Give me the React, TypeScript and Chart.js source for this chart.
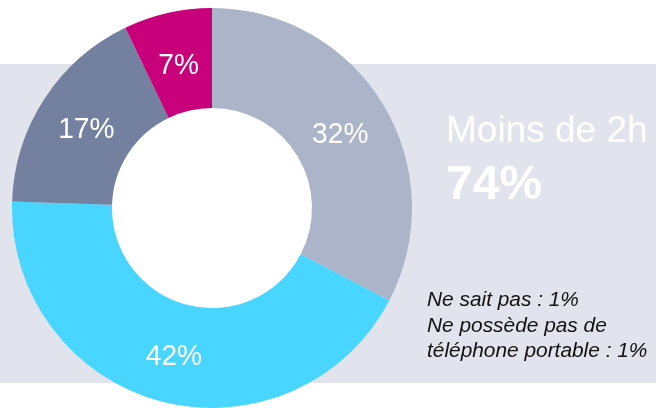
import React, { useEffect, useRef } from "react";
import { Chart, registerables } from "chart.js";

Chart.register(...registerables);

const labels = ["32%", "42%", "17%", "7%"];
const values = [32, 42, 17, 7];
const valueLabels = ["32%", "42%", "17%", "7%"];
const colors = ["#ABB4C8", "#48D5FF", "#7380A0", "#C8007A"];
const headline = "Moins de 2h";
const headlineValue = "74%";
const noteLines = ["Ne sait pas : 1%", "Ne possède pas de", "téléphone portable : 1%"];

const FONT = "'Liberation Sans', Arial, Helvetica, sans-serif";

const decorPlugin = {
  id: "decor",
  beforeDraw(chart: any) {
    const ctx = chart.ctx;
    ctx.save();
    ctx.fillStyle = "#E1E4EC";
    ctx.fillRect(0, 64, chart.width, 319);
    const arc = chart.getDatasetMeta(0).data[0];
    if (arc) {
      ctx.fillStyle = "#FFFFFF";
      ctx.beginPath();
      ctx.arc(arc.x, arc.y, arc.innerRadius + 1, 0, Math.PI * 2);
      ctx.fill();
    }
    ctx.restore();
  },
  afterDraw(chart: any) {
    const ctx = chart.ctx;
    const meta = chart.getDatasetMeta(0);
    ctx.save();
    ctx.fillStyle = "#FFFFFF";
    ctx.textAlign = "center";
    ctx.textBaseline = "middle";
    ctx.font = `29px ${FONT}`;
    meta.data.forEach((arc: any, i: number) => {
      const p = arc.tooltipPosition();
      ctx.save();
      ctx.translate(p.x, p.y + 4);
      ctx.scale(0.97, 1.04);
      ctx.fillText(valueLabels[i], 0, 0);
      ctx.restore();
    });

    ctx.textAlign = "left";
    ctx.textBaseline = "alphabetic";
    ctx.font = `37px ${FONT}`;
    ctx.fillText(headline, 446, 142);
    ctx.font = `bold 48px ${FONT}`;
    ctx.fillText(headlineValue, 446, 199);

    ctx.fillStyle = "#111111";
    ctx.font = `italic 19.5px ${FONT}`;
    noteLines.forEach((line, i) => {
      ctx.save();
      ctx.translate(427, 306 + i * 25.5);
      ctx.scale(1.07, 1);
      ctx.fillText(line, 0, 0);
      ctx.restore();
    });
    ctx.restore();
  },
};

export default function App() {
  const ref = useRef<HTMLCanvasElement>(null);
  useEffect(() => {
    if (!ref.current) return;
    const chart = new Chart(ref.current, {
      type: "doughnut",
      data: {
        labels: labels,
        datasets: [
          {
            data: values,
            backgroundColor: colors,
            borderWidth: 0,
            hoverOffset: 0,
          },
        ],
      },
      options: {
        responsive: false,
        animation: false,
        cutout: "50%",
        layout: { padding: { left: 12, right: 244, top: 8, bottom: 0 } },
        plugins: {
          legend: { display: false },
          tooltip: { enabled: false },
          title: { display: false },
        },
      },
      plugins: [decorPlugin],
    });
    return () => chart.destroy();
  }, []);
  return (
    <div style={{ position: "fixed", left: 0, top: 0, width: 656, height: 408, background: "#fff" }}>
      <canvas ref={ref} width={656} height={408} style={{ display: "block", width: 656, height: 408 }} />
    </div>
  );
}
